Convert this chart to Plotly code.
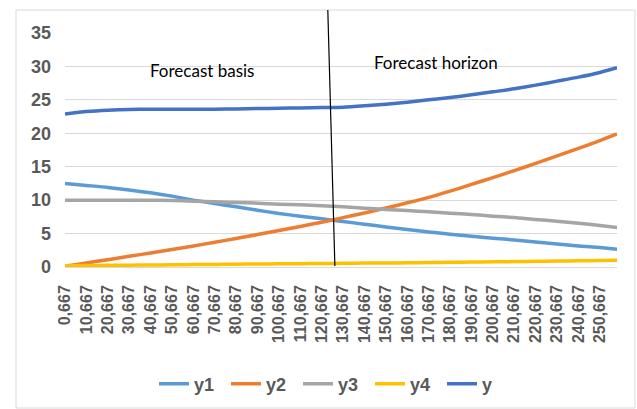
import plotly.graph_objects as go

# Data
x_vals = [0.667, 10.667, 20.667, 30.667, 40.667, 50.667, 60.667, 70.667, 80.667, 90.667,
          100.667, 110.667, 120.667, 130.667, 140.667, 150.667, 160.667, 170.667, 180.667,
          190.667, 200.667, 210.667, 220.667, 230.667, 240.667, 250.667, 258.667]
tick_labels = ["0,667", "10,667", "20,667", "30,667", "40,667", "50,667", "60,667", "70,667",
               "80,667", "90,667", "100,667", "110,667", "120,667", "130,667", "140,667",
               "150,667", "160,667", "170,667", "180,667", "190,667", "200,667", "210,667",
               "220,667", "230,667", "240,667", "250,667"]
tick_vals = x_vals[:26]

y1 = [12.5, 12.2, 11.9, 11.5, 11.1, 10.6, 10.0, 9.5, 9.0, 8.5, 8.0, 7.6, 7.2, 6.8, 6.4, 6.0,
      5.6, 5.25, 4.9, 4.6, 4.3, 4.05, 3.75, 3.45, 3.15, 2.9, 2.65]
y2 = [0.1, 0.6, 1.1, 1.6, 2.1, 2.62, 3.15, 3.7, 4.27, 4.85, 5.45, 6.07, 6.7, 7.38, 8.08, 8.82,
      9.6, 10.42, 11.35, 12.35, 13.38, 14.42, 15.5, 16.62, 17.75, 18.9, 19.9]
y3 = [10.0, 10.0, 10.0, 10.0, 10.0, 9.95, 9.85, 9.75, 9.65, 9.55, 9.4, 9.3, 9.15, 9.0, 8.8,
      8.6, 8.45, 8.25, 8.05, 7.85, 7.6, 7.4, 7.1, 6.85, 6.55, 6.2, 5.9]
y4 = [0.2, 0.22, 0.25, 0.28, 0.3, 0.33, 0.36, 0.39, 0.42, 0.45, 0.48, 0.5, 0.52, 0.55, 0.58,
      0.6, 0.63, 0.66, 0.7, 0.73, 0.77, 0.81, 0.85, 0.89, 0.93, 0.97, 1.0]
y = [22.9, 23.25, 23.45, 23.55, 23.6, 23.6, 23.6, 23.6, 23.65, 23.7, 23.75, 23.8, 23.85, 23.9,
     24.1, 24.35, 24.65, 25.0, 25.35, 25.75, 26.2, 26.65, 27.2, 27.8, 28.4, 29.1, 29.8]

series_names = ["y1", "y2", "y3", "y4", "y"]
series_colors = ["#5B9BD5", "#ED7D31", "#A5A5A5", "#FFC000", "#4472C4"]
series_data = [y1, y2, y3, y4, y]

# forecast boundary line (hand drawn, slightly slanted)
boundary_top = 123.5
boundary_bottom = 126.8

fig = go.Figure()
for name, color, vals in zip(series_names, series_colors, series_data):
    fig.add_trace(go.Scatter(
        x=x_vals, y=vals, name=name, mode="lines",
        line=dict(color=color, width=3.5, shape="spline", smoothing=0.6),
    ))

W, H = 637, 409
ml, mr, mt, mb = 65, 20, 33, 142
pw, ph = W - ml - mr, H - mt - mb

def px_x(p):
    return (p - ml) / pw

def px_y(p):
    return (H - mb - p) / ph

fig.update_layout(
    width=W, height=H,
    margin=dict(l=ml, r=mr, t=mt, b=mb, autoexpand=False),
    paper_bgcolor="white", plot_bgcolor="white",
    font=dict(family="Liberation Sans, Arial, sans-serif", color="#595959"),
    showlegend=True,
    legend=dict(
        orientation="h", xref="container", yref="container",
        x=334 / W, xanchor="center", y=1 - 384 / H, yanchor="middle",
        font=dict(size=18, color="#595959", weight="bold"),
        entrywidth=27, entrywidthmode="pixels",
        bgcolor="rgba(0,0,0,0)",
    ),
    xaxis=dict(
        range=[x_vals[0], x_vals[-1]],
        tickmode="array", tickvals=tick_vals, ticktext=tick_labels,
        tickangle=-90, showgrid=False, zeroline=False, showline=False, ticks="",
        tickfont=dict(size=16, color="#595959", weight="bold"),
        ticklabelstandoff=14,
    ),
    yaxis=dict(
        range=[0, 35], dtick=5, tick0=0,
        showgrid=True, gridcolor="#D9D9D9", gridwidth=1,
        zeroline=True, zerolinecolor="#D9D9D9", zerolinewidth=1,
        showline=False, ticks="",
        tickfont=dict(size=18, color="#595959", weight="bold"),
        ticklabelstandoff=13,
    ),
    shapes=[
        dict(type="rect", xref="paper", yref="paper",
             x0=px_x(16), x1=px_x(635), y0=px_y(408), y1=px_y(10),
             line=dict(color="#D9D9D9", width=1), fillcolor="rgba(0,0,0,0)", layer="below"),
        dict(type="line", xref="x", yref="paper",
             x0=boundary_top, x1=boundary_bottom, y0=px_y(10), y1=px_y(266),
             line=dict(color="black", width=1.2)),
    ],
    annotations=[
        dict(text="Forecast basis", xref="paper", yref="paper",
             x=px_x(202), y=px_y(70), xanchor="center", yanchor="middle", showarrow=False,
             font=dict(family="Lato, Carlito, Calibri, sans-serif", size=17, color="black")),
        dict(text="Forecast horizon", xref="paper", yref="paper",
             x=px_x(436), y=px_y(62), xanchor="center", yanchor="middle", showarrow=False,
             font=dict(family="Lato, Carlito, Calibri, sans-serif", size=17, color="black")),
    ],
)

fig.write_html("out.html", config={"displayModeBar": False},
               post_script="document.body.style.margin='0';")
